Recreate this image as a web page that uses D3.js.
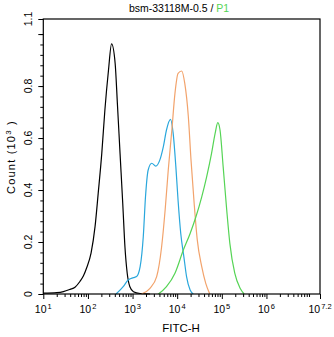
<!DOCTYPE html>
<html>
<head>
<meta charset="utf-8">
<script src="https://cdn.jsdelivr.net/npm/d3@7/dist/d3.min.js"></script>
<style>
  html, body { margin: 0; padding: 0; background: #fff; }
  svg text { font-family: "Liberation Sans", Arial, sans-serif; }
</style>
</head>
<body>
<svg id="chart" width="334" height="337"></svg>
<script>
// Histogram overlays: [log10(FITC-H), count (10^3)]
const isotype = [
  [1.00,0.003],[1.30,0.005],[1.45,0.009],[1.60,0.018],[1.71,0.026],[1.82,0.048],
  [1.90,0.070],[1.97,0.100],[2.07,0.157],[2.16,0.260],[2.23,0.387],[2.31,0.540],
  [2.38,0.708],[2.46,0.860],[2.53,0.962],[2.61,0.887],[2.66,0.733],[2.72,0.540],
  [2.78,0.349],[2.83,0.180],[2.88,0.080],[2.94,0.028],[3.02,0.009],[3.17,0.002],[3.39,0]
];
const sampleBlue = [
  [2.63,0],[2.79,0.028],[2.90,0.054],[3.02,0.063],[3.09,0.067],[3.17,0.105],
  [3.24,0.220],[3.29,0.374],[3.35,0.477],[3.43,0.503],[3.52,0.492],[3.61,0.515],
  [3.69,0.567],[3.76,0.631],[3.85,0.672],[3.91,0.618],[3.97,0.490],[4.02,0.360],
  [4.08,0.233],[4.15,0.143],[4.21,0.067],[4.29,0.015],[4.36,0]
];
const sampleOrange = [
  [3.20,0],[3.39,0.022],[3.54,0.067],[3.65,0.180],[3.73,0.323],[3.80,0.477],
  [3.88,0.630],[3.95,0.772],[4.02,0.849],[4.10,0.858],[4.17,0.810],[4.25,0.682],
  [4.31,0.515],[4.38,0.349],[4.45,0.208],[4.55,0.105],[4.64,0.041],[4.73,0]
];
const sampleGreen = [
  [3.58,0],[3.76,0.028],[3.95,0.080],[4.14,0.170],[4.29,0.233],[4.42,0.297],
  [4.55,0.374],[4.66,0.451],[4.77,0.541],[4.85,0.618],[4.91,0.659],[4.96,0.631],
  [5.03,0.490],[5.11,0.323],[5.18,0.195],[5.29,0.080],[5.41,0.022],[5.50,0]
];

const seriesColors = ["#000000", "#2aa7dc", "#f2a36c", "#55d455"];
const xTickExponents = ["1", "2", "3", "4", "5", "6", "7.2"];
const yTickValues = [0, 0.2, 0.4, 0.6, 0.8, 1.0];
const yTickLabels = ["0", "0.2", "0.4", "0.6", "0.8", ""];
const yTopLabel = "1.1";
const yMax = 1.058;

const svg = d3.select("#chart");
const plot = { left: 43.3, right: 320, top: 19, bottom: 294 };

const x = d3.scaleLog().domain([10, Math.pow(10, 7.2)]).range([plot.left, plot.right]);
const y = d3.scaleLinear().domain([0, yMax]).range([plot.bottom, plot.top]);

// curves
const line = d3.line()
  .x(d => x(Math.pow(10, d[0])))
  .y(d => y(d[1]))
  .curve(d3.curveMonotoneX);

[isotype, sampleBlue, sampleOrange, sampleGreen].forEach((s, i) => {
  svg.append("path")
    .attr("d", line(s))
    .attr("fill", "none")
    .attr("stroke", seriesColors[i])
    .attr("stroke-width", 1.2);
});

// frame
svg.append("rect")
  .attr("x", plot.left).attr("y", plot.top)
  .attr("width", plot.right - plot.left).attr("height", plot.bottom - plot.top)
  .attr("fill", "none").attr("stroke", "#000").attr("stroke-width", 1.2);

// x axis: decade ticks + minor ticks
const xMinor = [];
for (let e = 1; e < 8; e++) {
  for (let m = 2; m <= 9; m++) {
    const v = m * Math.pow(10, e);
    if (v < Math.pow(10, 7.2)) xMinor.push(v);
  }
}
const xMajor = xTickExponents.map(e => Math.pow(10, +e));

const xAxisMinor = d3.axisBottom(x).tickValues(xMinor).tickSize(3).tickFormat("");
const xAxisMajor = d3.axisBottom(x).tickValues(xMajor).tickSize(5).tickFormat("");
[xAxisMinor, xAxisMajor].forEach(ax => {
  const g = svg.append("g").attr("transform", `translate(0,${plot.bottom})`).call(ax);
  g.select(".domain").remove();
  g.selectAll("line").attr("stroke", "#000");
});

const xLabels = svg.append("g");
xTickExponents.forEach(e => {
  const t = xLabels.append("text")
    .attr("x", x(Math.pow(10, +e)))
    .attr("y", 313)
    .attr("text-anchor", "middle")
    .attr("font-size", 10.5)
    .attr("fill", "#000");
  t.append("tspan").text("10");
  t.append("tspan").attr("font-size", 7.5).attr("dy", -3.8).attr("dx", 1).text(e);
});

// y axis
const yMinor = d3.range(0, 1.0001, 0.04);
const yAxisMinor = d3.axisLeft(y).tickValues(yMinor).tickSize(3).tickFormat("");
const yAxisMajor = d3.axisLeft(y).tickValues(yTickValues.concat([yMax])).tickSize(5).tickFormat("");
[yAxisMinor, yAxisMajor].forEach(ax => {
  const g = svg.append("g").attr("transform", `translate(${plot.left},0)`).call(ax);
  g.select(".domain").remove();
  g.selectAll("line").attr("stroke", "#000");
});

const yLabelVals = yTickValues.concat([yMax]);
const yLabelText = yTickLabels.concat([yTopLabel]);
yLabelVals.forEach((v, i) => {
  if (!yLabelText[i]) return;
  svg.append("text")
    .attr("transform", `translate(32,${y(v)}) rotate(-90)`)
    .attr("text-anchor", "middle")
    .attr("font-size", 10.5)
    .attr("fill", "#000")
    .text(yLabelText[i]);
});

// axis titles
svg.append("text")
  .attr("x", 181).attr("y", 332)
  .attr("text-anchor", "middle")
  .attr("font-size", 11.5)
  .attr("fill", "#000")
  .text("FITC-H");

const yTitle = svg.append("text")
  .attr("transform", `translate(15,157) rotate(-90)`)
  .attr("text-anchor", "middle")
  .attr("font-size", 11)
  .attr("letter-spacing", 1.2)
  .attr("fill", "#000");
yTitle.append("tspan").text("Count  (10");
yTitle.append("tspan").attr("font-size", 8).attr("dy", -4).text("3");
yTitle.append("tspan").attr("dy", 4).text(" )");

// title
const title = svg.append("text")
  .attr("x", 179).attr("y", 12)
  .attr("text-anchor", "middle")
  .attr("font-size", 10.5);
title.append("tspan").attr("fill", "#000").text("bsm-33118M-0.5 / ");
title.append("tspan").attr("fill", "#55d455").text("P1");
</script>
</body>
</html>
